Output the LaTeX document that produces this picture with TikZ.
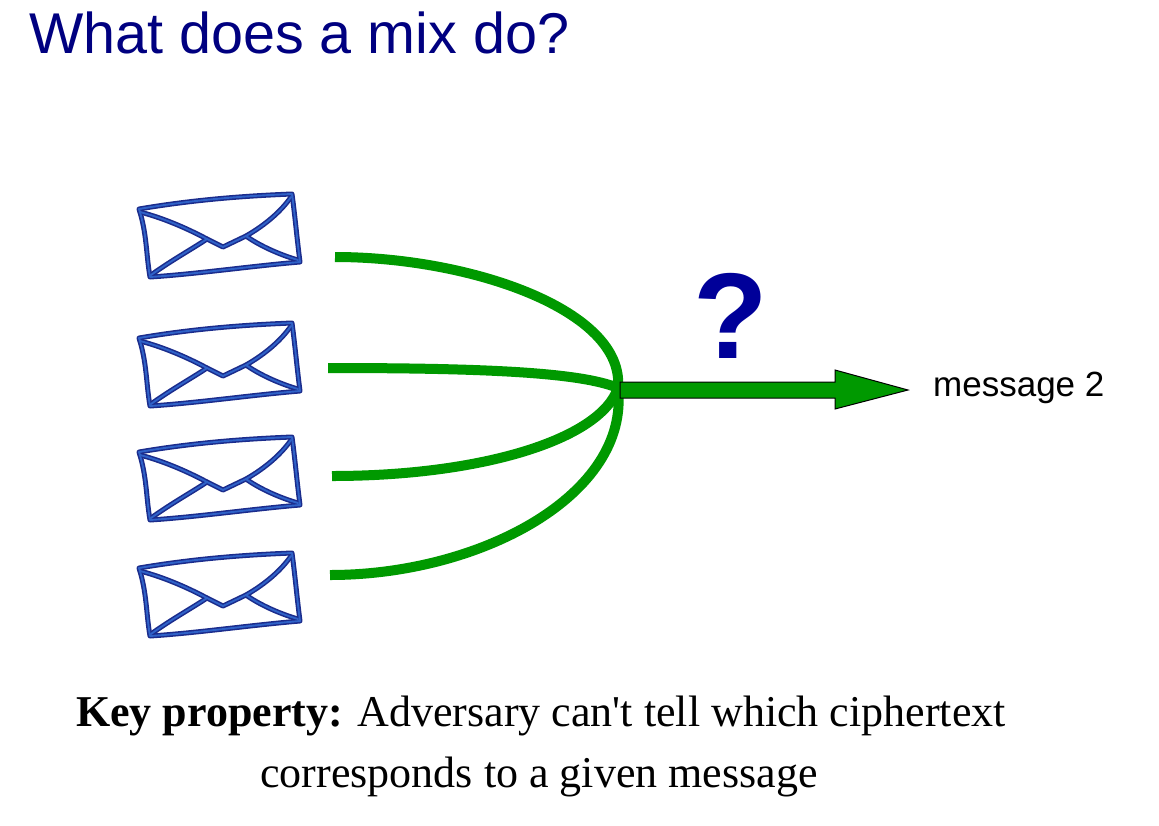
\documentclass[tikz,border=0pt]{standalone}
\usepackage{fontspec}
\newfontfamily\timesf{Liberation Serif}
\newfontfamily\arialf{Liberation Sans}
\usetikzlibrary{calc}
\definecolor{navy}{HTML}{000080}
\definecolor{qblue}{HTML}{000099}
\definecolor{mixgreen}{HTML}{009900}
\definecolor{envdark}{HTML}{1B2C8C}
\definecolor{envlight}{HTML}{2F62C8}
\tikzset{
  envpath/.style={line join=round, line cap=round},
  envelope/.pic={
    \foreach \w/\c in {5/envdark, 1.9/envlight}{
      \draw[envpath, line width=\w pt, color=\c]
        (-153,15) .. controls (-100,6) and (-50,2) .. (0,0)
        .. controls (3,22) and (5,45) .. (8,68)
        .. controls (-40,72) and (-95,80) .. (-142,83)
        .. controls (-146,60) and (-145,40) .. cycle;
      \draw[envpath, line width=\w pt, color=\c]
        (-152,18) .. controls (-125,25) and (-100,37) .. (-85,45)
        -- (-69,53) -- (-46,42)
        .. controls (-25,30) and (-10,16) .. (-1,3);
      \draw[envpath, line width=\w pt, color=\c]
        (-141,81) .. controls (-120,66) and (-100,55) .. (-85,45);
      \draw[envpath, line width=\w pt, color=\c]
        (6,66) .. controls (-15,60) and (-35,50) .. (-46,42);
    }
  },
  titletext/.style={font=\arialf\fontsize{57.5}{60}\selectfont, text=navy, inner sep=0pt},
  qtext/.style={font=\arialf\bfseries\fontsize{122}{126}\selectfont, text=qblue, inner sep=0pt},
  msgtext/.style={font=\arialf\fontsize{35}{38}\selectfont, text=black, inner sep=0pt},
  bodytext/.style={font=\timesf\fontsize{44}{48}\selectfont, text=black, inner sep=0pt},
  mixline/.style={draw=mixgreen, line width=10pt},
  bigarrow/.style={fill=mixgreen, draw=black, line width=1pt, line join=miter}
}
\begin{document}
\begin{tikzpicture}[x=1pt, y=-1pt]
  \useasboundingbox (0,0) rectangle (1159,825);
  % title
  \node[titletext, anchor=base west] (title) at (29,53) {What does a mix do?};
  % envelopes
  \pic (env1) at (292,194) {envelope};
  \pic (env2) at (292,323) {envelope};
  \pic (env3) at (292,437) {envelope};
  \pic (env4) at (292,553) {envelope};
  % curve start points and junction
  \coordinate (s1) at (335,257);
  \coordinate (s2) at (328,368);
  \coordinate (s3) at (332,476);
  \coordinate (s4) at (330,575);
  \coordinate (J) at (618,388);
  \draw[mixline] (s1) .. controls (470,257) and (625,310) .. (J);
  \draw[mixline] (s2) .. controls (480,368) and (580,372) .. (J);
  \draw[mixline] (s3) .. controls (480,476) and (600,440) .. (J);
  \draw[mixline] (s4) .. controls (480,575) and (630,495) .. (J);
  % output arrow
  \node[msgtext, anchor=base west] (msg) at (933,396) {message 2};
  \coordinate (A0) at ($(J)+(2,2)$);
  \coordinate (tip) at (908,390);
  \path[bigarrow] ($(A0)+(0,-8)$) -- (835,382) -- (835,370) -- (tip)
     -- (835,409) -- (835,398) -- ($(A0)+(0,8)$) -- cycle;
  \node[qtext, anchor=base] (q) at (731,358) {?};
  % bottom text
  \node[bodytext, anchor=base west] (key) at (76,726)
     {\textbf{Key property:} Adversary can't tell which ciphertext};
  \node[bodytext, anchor=base] (key2) at (539,787)
     {corresponds to a given message};
\end{tikzpicture}
\end{document}
